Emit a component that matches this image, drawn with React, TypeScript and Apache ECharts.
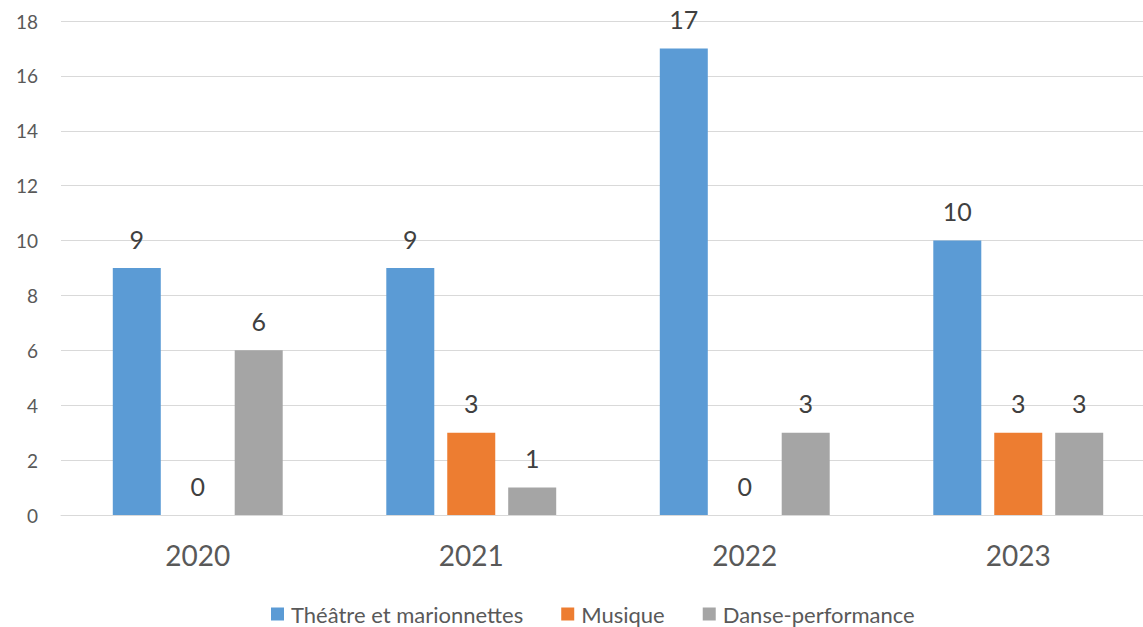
import React, { useEffect, useRef } from "react";
import * as echarts from "echarts";

const categories = ["2020", "2021", "2022", "2023"];
const theatre = [9, 9, 17, 10];
const musique = [0, 3, 0, 3];
const danse = [6, 1, 3, 3];
const seriesNames = ["Théâtre et marionnettes", "Musique", "Danse-performance"];
const colors = ["#5B9BD5", "#ED7D31", "#A5A5A5"];

const FONT = "Lato, 'Noto Sans', sans-serif";

export default function App() {
  const ref = useRef<HTMLDivElement>(null);
  useEffect(() => {
    if (!ref.current) return;
    const chart = echarts.init(ref.current, null, { renderer: "svg" });
    const label = {
      show: true,
      position: "top",
      distance: 17,
      fontSize: 25,
      color: "#404040",
      fontFamily: FONT,
    };
    const data = [theatre, musique, danse];
    chart.setOption({
      animation: false,
      textStyle: { fontFamily: FONT },
      grid: { left: 61, right: 0, top: 21, bottom: 112, containLabel: false },
      legend: {
        left: 266,
        top: 598,
        itemWidth: 13,
        itemHeight: 13,
        itemGap: 38,
        icon: "rect",
        textStyle: { fontSize: 22, color: "#595959", fontFamily: FONT, padding: [0, 0, 0, 2] },
        data: seriesNames,
      },
      xAxis: {
        type: "category",
        data: categories,
        axisLine: { show: true, lineStyle: { color: "#D9D9D9", width: 1 } },
        axisTick: { show: false },
        axisLabel: { fontSize: 28, color: "#595959", margin: 26, fontFamily: FONT },
      },
      yAxis: {
        type: "value",
        min: 0,
        max: 18,
        interval: 2,
        axisLine: { show: false },
        axisTick: { show: false },
        axisLabel: { fontSize: 19, color: "#595959", margin: 23, fontFamily: FONT },
        splitLine: { lineStyle: { color: "#D9D9D9", width: 1 } },
      },
      series: seriesNames.map((name, i) => ({
        name,
        type: "bar",
        data: data[i],
        barWidth: 48,
        barGap: "27%",
        itemStyle: { color: colors[i] },
        label,
      })),
    });
    return () => chart.dispose();
  }, []);
  return (
    <div
      ref={ref}
      style={{ position: "fixed", left: 0, top: 0, width: 1155, height: 627, background: "#fff" }}
    />
  );
}
